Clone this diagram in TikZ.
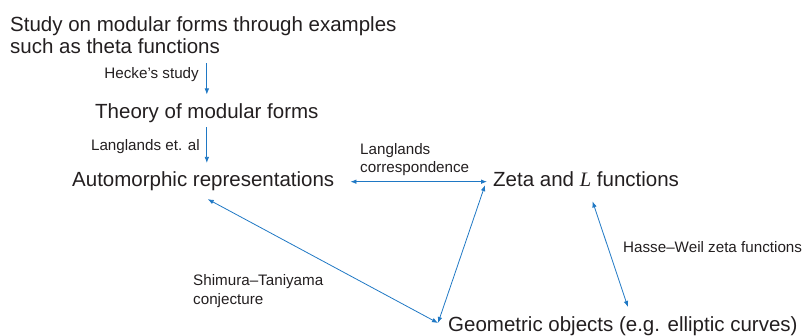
\documentclass[tikz,border=0pt]{standalone}
\usepackage{fontspec}
\setmainfont{Liberation Sans}
\newfontfamily\serifit{Liberation Serif}
\usetikzlibrary{arrows.meta}
\definecolor{textc}{HTML}{231F20}
\definecolor{arrc}{HTML}{1F78C4}
\begin{document}
\begin{tikzpicture}[x=1pt,y=-1pt,
  txt/.style={inner sep=0pt, anchor=base west, text=textc, font=\fontsize{20.5}{24}\selectfont},
  lbl/.style={inner sep=0pt, text=textc, font=\fontsize{15.2}{18.5}\selectfont, align=left},
  conn/.style={draw=arrc, line width=0.8pt, -{Latex[length=6pt,width=4.6pt]}},
  dconn/.style={draw=arrc, line width=0.8pt, {Latex[length=6pt,width=4.6pt]}-{Latex[length=6pt,width=4.6pt]}}]
\useasboundingbox (0,0) rectangle (806,336);
% main texts
\node[txt] (s1) at (10,32) {Study on modular forms through examples};
\node[txt] (s2) at (10,53.5) {such as theta functions};
\node[txt] (theory) at (95,119) {Theory of modular forms};
\node[txt] (auto) at (72,187) {Automorphic representations};
\node[txt] (zeta) at (493,187) {Zeta and {\serifit\itshape L} functions};
\node[txt] (geo) at (448,332) {Geometric objects (e.g. elliptic curves)};
% labels
\node[lbl, anchor=east] (hecke) at (199,75) {Hecke’s study};
\node[lbl, anchor=east] (llal) at (200,146.5) {Langlands et. al};
\node[lbl, anchor=north west] (lcorr) at (360,143) {Langlands\\correspondence};
\node[lbl, anchor=base west] (hasse) at (623,253) {Hasse–Weil zeta functions};
\node[lbl, anchor=north west] (shim) at (193,274.6) {Shimura–Taniyama\\conjecture};
% connectors
\draw[conn] ([yshift=-9.5pt]s2.south -| theory.north) -- ([yshift=9.5pt]theory.north);
\draw[conn] ([yshift=-4pt]theory.south) -- ([yshift=9pt]auto.north -| theory.south);
\draw[dconn, shorten <=16pt, shorten >=6pt] (auto.east) -- (auto.east -| zeta.west);
\draw[dconn] ([xshift=-8pt,yshift=-5.5pt]zeta.west) -- ([xshift=-10pt,yshift=3.7pt]geo.west);
\draw[dconn] ([xshift=4.5pt,yshift=-7.7pt]auto.south) -- ([xshift=-10pt,yshift=3.7pt]geo.west);
\draw[dconn] ([xshift=6.5pt,yshift=-14pt]zeta.south) -- ([xshift=5pt,yshift=10pt]geo.north);
\end{tikzpicture}
\end{document}
